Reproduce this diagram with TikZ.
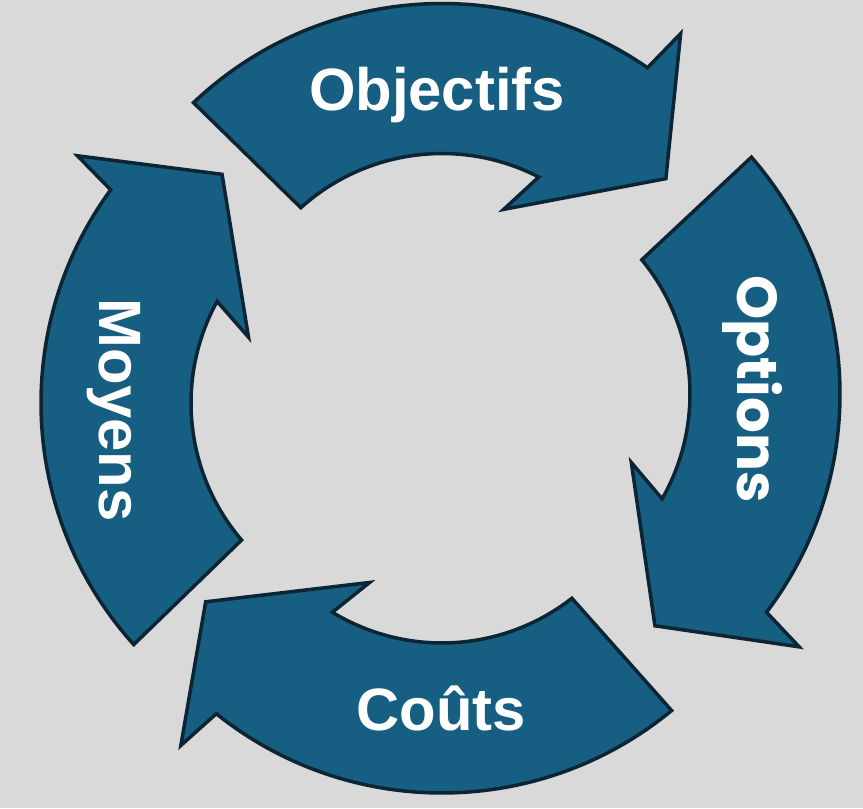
\documentclass[tikz,border=0pt]{standalone}
\usepackage{fontspec}
\setmainfont{Liberation Sans}
\newfontfamily\poppins{Poppins}
\definecolor{cyclefill}{HTML}{175F82}
\definecolor{cycleline}{HTML}{0B2535}
\definecolor{backgr}{HTML}{D9D9D9}
\tikzset{cyclearrow/.style={fill=cyclefill, draw=cycleline, line width=1pt, line join=miter},
         cyclelabel/.style={text=white, inner sep=0pt, font=\bfseries\fontsize{17}{20}\selectfont}}

\begin{document}
\begin{tikzpicture}[x=0.01cm,y=0.01cm]
   \fill[backgr] (0,0) rectangle (863,808);
   \useasboundingbox (0,0) rectangle (863,808);
   % top
   \begin{scope}[shift={(442,443.5)}, rotate=1.5]
    \draw[cyclearrow] (132:361) arc(132:53.8:361) -- (52.7:408) -- (38.2:291) -- (66.8:167)
       -- (61.2:211) arc(61.2:130.5:211) -- cycle;
   \end{scope}
   % right
   \begin{scope}[shift={(479,414)}, rotate=-91]
    \draw[cyclearrow] (132:361) arc(132:53.8:361) -- (52.7:408) -- (38.2:291) -- (66.8:167)
       -- (61.2:211) arc(61.2:130.5:211) -- cycle;
   \end{scope}
   % bottom
   \begin{scope}[shift={(442,376)}, rotate=177.5]
    \draw[cyclearrow] (132:361) arc(132:53.8:361) -- (52.7:408) -- (38.2:291) -- (66.8:167)
       -- (61.2:211) arc(61.2:130.5:211) -- cycle;
   \end{scope}
   % left
   \begin{scope}[shift={(402,405)}, rotate=90]
    \draw[cyclearrow] (132:361) arc(132:53.8:361) -- (52.7:408) -- (38.2:291) -- (66.8:167)
       -- (61.2:211) arc(61.2:130.5:211) -- cycle;
   \end{scope}
   \node[cyclelabel, anchor=base] (objectifs) at (437,698) {Objectifs};
   \node[cyclelabel, anchor=base, rotate=-90, font=\poppins\bfseries\fontsize{16}{19}\selectfont] (options) at (737,419) {Options};
   \node[cyclelabel, anchor=base] (couts) at (441,78) {Coûts};
   \node[cyclelabel, anchor=base, rotate=-90] (moyens) at (100,398) {Moyens};
\end{tikzpicture}
\end{document}
